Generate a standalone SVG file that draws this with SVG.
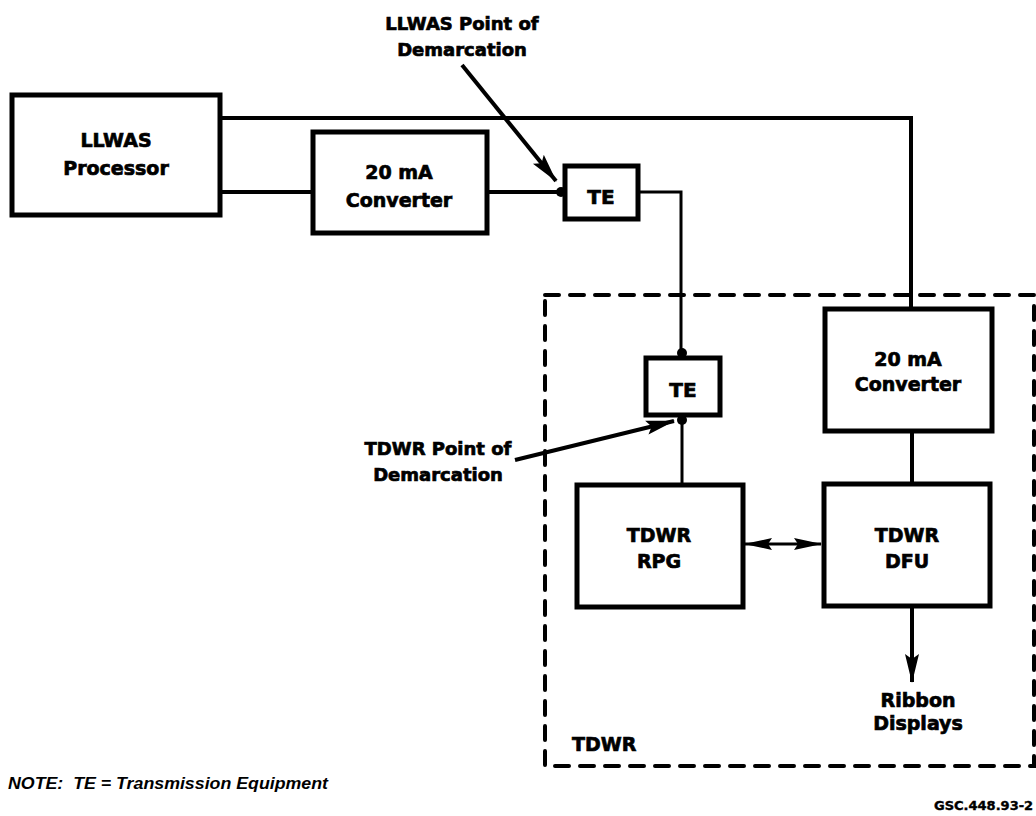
<svg xmlns="http://www.w3.org/2000/svg" width="1036" height="816" viewBox="0 0 1036 816">
<style>
.box{fill:#fff;stroke:#000;stroke-width:5}
.lbl{font-family:"DejaVu Sans","Liberation Sans",sans-serif;font-weight:bold;font-size:19px;text-anchor:middle;fill:#000;stroke:#000;stroke-width:0.7}
.ann{font-family:"DejaVu Sans","Liberation Sans",sans-serif;font-weight:bold;font-size:18px;text-anchor:middle;fill:#000;stroke:#000;stroke-width:0.7}
.te{font-size:20px}
.ln{fill:none;stroke:#000;stroke-width:4}
.thin{fill:none;stroke:#000;stroke-width:3}
.dash{fill:none;stroke:#000;stroke-width:4;stroke-dasharray:14 11;stroke-linecap:round}
</style>
<defs>
<marker id="ah" markerUnits="userSpaceOnUse" markerWidth="28" markerHeight="14" refX="27" refY="7" orient="auto-start-reverse">
<path d="M0,1 L28,7 L0,13 L4,7 z" fill="#000"/>
</marker>
<marker id="ahw" markerUnits="userSpaceOnUse" markerWidth="29" markerHeight="16" refX="28" refY="8" orient="auto">
<path d="M0,1 L29,8 L0,15 L5,8 z" fill="#000"/>
</marker>
</defs>
<rect width="1036" height="816" fill="#fff"/>

<g id="tdwr-boundary">
<rect class="dash" x="545" y="295" width="489" height="471"/>
<text class="lbl" x="572" y="751" style="text-anchor:start">TDWR</text>
</g>

<g id="connectors">
<path class="ln" d="M220,118 H911 V309"/>
<path class="ln" d="M220,192 H313"/>
<path class="ln" d="M487,192 H564"/>
<circle cx="561" cy="192" r="5" fill="#000"/>
<path class="thin" d="M638,192 H681 V358"/>
<circle cx="682" cy="353" r="5" fill="#000"/>
<path class="thin" d="M682,415 V485"/>
<circle cx="682" cy="420" r="5" fill="#000"/>
<path class="ln" d="M912,431 V484"/>
<path class="thin" d="M745,544 H821" marker-start="url(#ah)" marker-end="url(#ah)"/>
<path class="ln" d="M912,606 V682" marker-end="url(#ahw)"/>
<path class="ln" d="M462,65 L556,181" marker-end="url(#ahw)"/>
<path class="ln" d="M515,460 L674,421" marker-end="url(#ahw)"/>
</g>

<g id="llwas-processor">
<rect class="box" x="12" y="95" width="208" height="120"/>
<text class="lbl" x="116" y="147">LLWAS</text>
<text class="lbl" x="116" y="175">Processor</text>
</g>

<g id="converter-1">
<rect class="box" x="313" y="132" width="174" height="101"/>
<text class="lbl" x="399" y="179">20 mA</text>
<text class="lbl" x="399" y="207">Converter</text>
</g>

<g id="te-1">
<rect class="box" x="565" y="166" width="73" height="53"/>
<text class="lbl te" x="601" y="204">TE</text>
</g>

<g id="te-2">
<rect class="box" x="646" y="358" width="74" height="57"/>
<text class="lbl te" x="683" y="397">TE</text>
</g>

<g id="converter-2">
<rect class="box" x="825" y="309" width="167" height="122"/>
<text class="lbl" x="908" y="366">20 mA</text>
<text class="lbl" x="908" y="391">Converter</text>
</g>

<g id="tdwr-rpg">
<rect class="box" x="577" y="485" width="166" height="122"/>
<text class="lbl" x="659" y="542">TDWR</text>
<text class="lbl" x="659" y="568">RPG</text>
</g>

<g id="tdwr-dfu">
<rect class="box" x="824" y="484" width="166" height="122"/>
<text class="lbl" x="907" y="542">TDWR</text>
<text class="lbl" x="907" y="568">DFU</text>
</g>

<g id="ribbon-displays">
<text class="lbl" x="918" y="707">Ribbon</text>
<text class="lbl" x="918" y="730">Displays</text>
</g>

<g id="llwas-demarcation">
<text class="ann" x="462" y="30">LLWAS Point of</text>
<text class="ann" x="462" y="56">Demarcation</text>
</g>

<g id="tdwr-demarcation">
<text class="ann" x="438" y="455">TDWR Point of</text>
<text class="ann" x="438" y="481">Demarcation</text>
</g>

<g id="note">
<text x="8" y="789" textLength="320" lengthAdjust="spacingAndGlyphs" style="white-space:pre;font-family:'Liberation Sans',Arial,sans-serif;font-style:italic;font-weight:bold;font-size:16px;fill:#000"><tspan>NOTE:</tspan><tspan>  TE = Transmission Equipment</tspan></text>
</g>

<g id="figure-id">
<text x="934" y="810" style="font-family:'DejaVu Sans','Liberation Sans',sans-serif;font-weight:bold;font-size:13px;fill:#000;stroke:#000;stroke-width:0.4">GSC.448.93-2</text>
</g>
</svg>
